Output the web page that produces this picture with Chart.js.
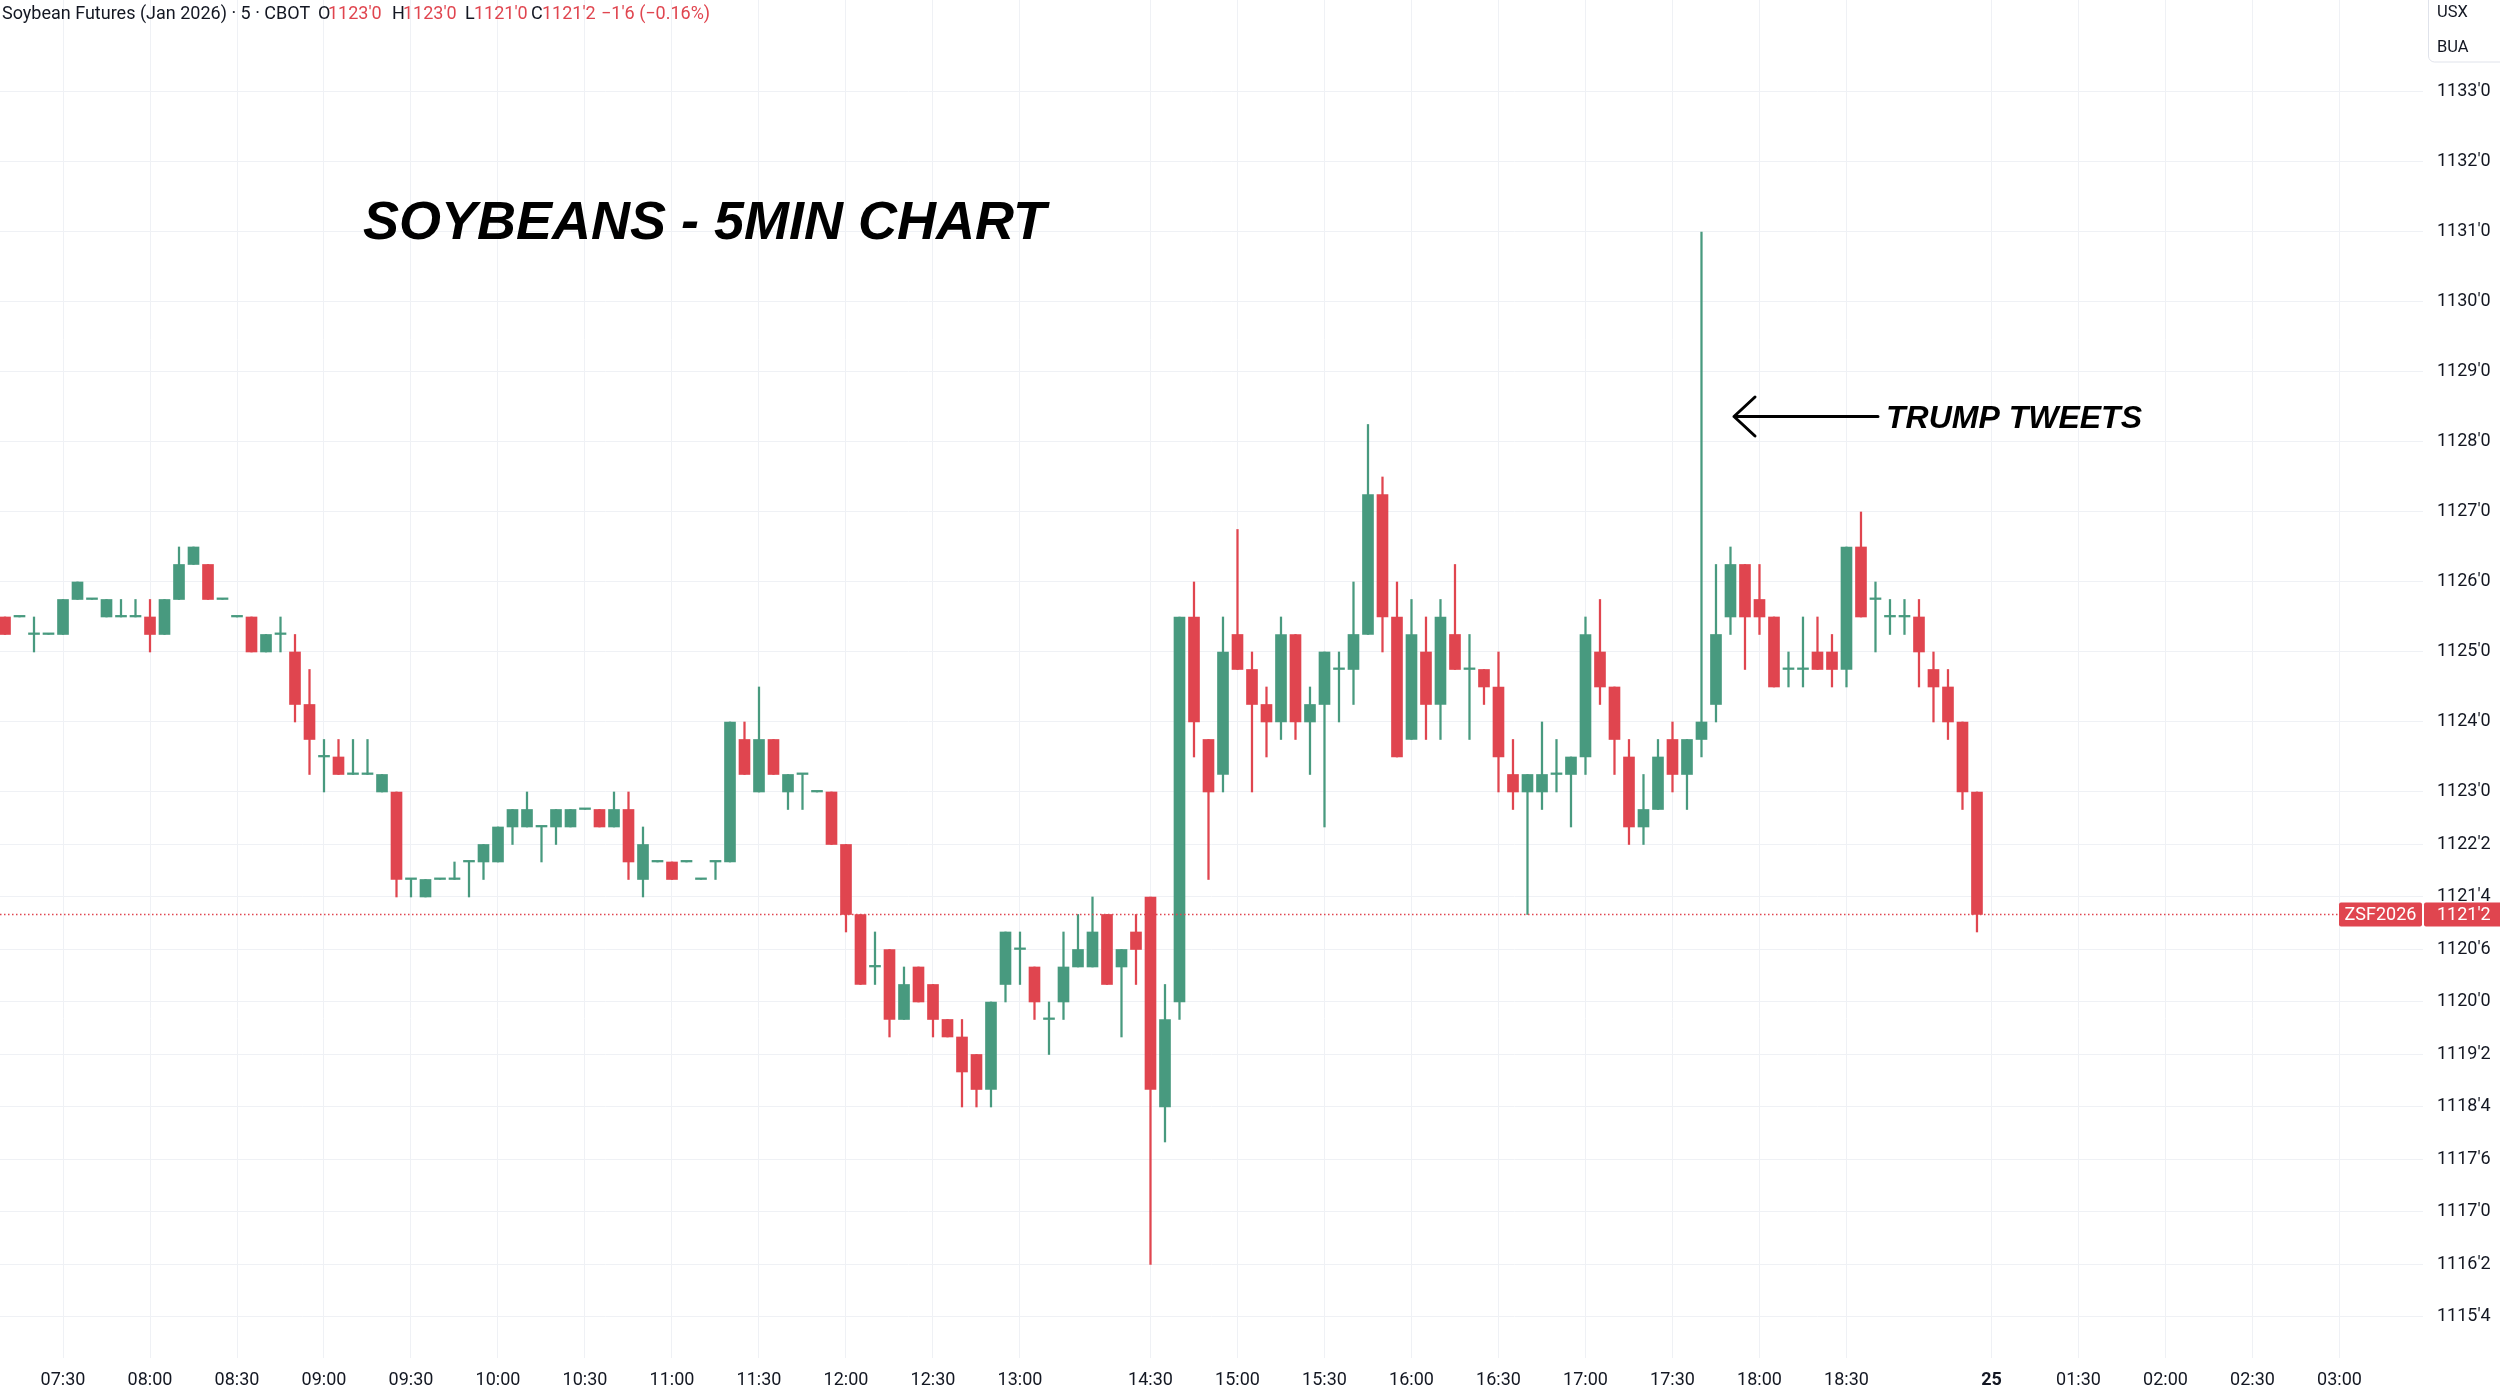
<!DOCTYPE html>
<html>
<head>
<meta charset="utf-8">
<title>Soybeans 5min</title>
<script src="https://cdn.jsdelivr.net/npm/chart.js@4.4.0/dist/chart.umd.min.js"></script>
<style>
  html, body { margin: 0; padding: 0; background: #ffffff; overflow: hidden; }
  #wrap { width: 2500px; height: 1387px; position: relative; }
</style>
</head>
<body>
<div id="wrap"><canvas id="myChart"></canvas></div>
<script>
// 5 minute candles, 07:10 -> 13:40 then 14:30 -> 19:15 (one slot per candle)
const open = [
  1125.5, 1125.5, 1125.25, 1125.25, 1125.25, 1125.75, 1125.75, 1125.5, 1125.5, 1125.5,
  1125.5, 1125.25, 1125.75, 1126.25, 1126.25, 1125.75, 1125.5, 1125.5, 1125, 1125.25,
  1125, 1124.25, 1123.5, 1123.5, 1123.25, 1123.25, 1123, 1123, 1121.75, 1121.5,
  1121.75, 1121.75, 1122, 1122, 1122, 1122.5, 1122.5, 1122.5, 1122.5, 1122.5,
  1122.75, 1122.75, 1122.5, 1122.75, 1121.75, 1122, 1122, 1122, 1121.75, 1122,
  1122, 1123.75, 1123, 1123.75, 1123, 1123.25, 1123, 1123, 1122.25, 1121.25,
  1120.5, 1120.75, 1119.75, 1120.5, 1120.25, 1119.75, 1119.5, 1119.25, 1118.75, 1120.25,
  1120.75, 1120.5, 1119.75, 1120, 1120.5, 1120.5, 1121.25, 1120.5, 1121,
  1121.5, 1118.5, 1120, 1125.5, 1123.75, 1123.25, 1125.25, 1124.75, 1124.25, 1124,
  1125.25, 1124, 1124.25, 1124.75, 1124.75, 1125.25, 1127.25, 1125.5, 1123.75, 1125,
  1124.25, 1125.25, 1124.75, 1124.75, 1124.5, 1123.25, 1123, 1123, 1123.25, 1123.25,
  1123.5, 1125, 1124.5, 1123.5, 1122.5, 1122.75, 1123.75, 1123.25, 1123.75, 1124.25,
  1125.5, 1126.25, 1125.75, 1125.5, 1124.75, 1124.75, 1125, 1125, 1124.75, 1126.5,
  1125.75, 1125.5, 1125.5, 1125.5, 1124.75, 1124.5, 1124, 1123
];
const high = [
  1125.5, 1125.5, 1125.5, 1125.25, 1125.75, 1126, 1125.75, 1125.75, 1125.75, 1125.75,
  1125.75, 1125.75, 1126.5, 1126.5, 1126.25, 1125.75, 1125.5, 1125.5, 1125.25, 1125.5,
  1125.25, 1124.75, 1123.75, 1123.75, 1123.75, 1123.75, 1123.25, 1123, 1121.75, 1121.75,
  1121.75, 1122, 1122, 1122.25, 1122.5, 1122.75, 1123, 1122.5, 1122.75, 1122.75,
  1122.75, 1122.75, 1123, 1123, 1122.5, 1122, 1122, 1122, 1121.75, 1122,
  1124, 1124, 1124.5, 1123.75, 1123.25, 1123.25, 1123, 1123, 1122.25, 1121.25,
  1121, 1120.75, 1120.5, 1120.5, 1120.25, 1119.75, 1119.75, 1119.25, 1120, 1121,
  1121, 1120.5, 1120, 1121, 1121.25, 1121.5, 1121.25, 1120.75, 1121.25,
  1121.5, 1120.25, 1125.5, 1126, 1123.75, 1125.5, 1126.75, 1125, 1124.5, 1125.5,
  1125.25, 1124.5, 1125, 1125, 1126, 1128.25, 1127.5, 1126, 1125.75, 1125.5,
  1125.75, 1126.25, 1125.25, 1124.75, 1125, 1123.75, 1123.25, 1124, 1123.75, 1123.5,
  1125.5, 1125.75, 1124.5, 1123.75, 1123.25, 1123.75, 1124, 1123.75, 1131, 1126.25,
  1126.5, 1126.25, 1126.25, 1125.5, 1125, 1125.5, 1125.5, 1125.25, 1126.5, 1127,
  1126, 1125.75, 1125.75, 1125.75, 1125, 1124.75, 1124, 1123
];
const low = [
  1125.25, 1125.5, 1125, 1125.25, 1125.25, 1125.75, 1125.75, 1125.5, 1125.5, 1125.5,
  1125, 1125.25, 1125.75, 1126.25, 1125.75, 1125.75, 1125.5, 1125, 1125, 1125,
  1124, 1123.25, 1123, 1123.25, 1123.25, 1123.25, 1123, 1121.5, 1121.5, 1121.5,
  1121.75, 1121.75, 1121.5, 1121.75, 1122, 1122.25, 1122.5, 1122, 1122.25, 1122.5,
  1122.75, 1122.5, 1122.5, 1121.75, 1121.5, 1122, 1121.75, 1122, 1121.75, 1121.75,
  1122, 1123.25, 1123, 1123.25, 1122.75, 1122.75, 1123, 1122.25, 1121, 1120.25,
  1120.25, 1119.5, 1119.75, 1120, 1119.5, 1119.5, 1118.5, 1118.5, 1118.5, 1120,
  1120.25, 1119.75, 1119.25, 1119.75, 1120.5, 1120.5, 1120.25, 1119.5, 1120.25,
  1116.25, 1118, 1119.75, 1123.5, 1121.75, 1123, 1124.75, 1123, 1123.5, 1123.75,
  1123.75, 1123.25, 1122.5, 1124, 1124.25, 1125.25, 1125, 1123.5, 1123.75, 1123.75,
  1123.75, 1124.75, 1123.75, 1124.25, 1123, 1122.75, 1121.25, 1122.75, 1123, 1122.5,
  1123.25, 1124.25, 1123.25, 1122.25, 1122.25, 1122.75, 1123, 1122.75, 1123.5, 1124,
  1125.25, 1124.75, 1125.25, 1124.5, 1124.5, 1124.5, 1124.75, 1124.5, 1124.5, 1125.5,
  1125, 1125.25, 1125.25, 1124.5, 1124, 1123.75, 1122.75, 1121
];
const close = [
  1125.25, 1125.5, 1125.25, 1125.25, 1125.75, 1126, 1125.75, 1125.75, 1125.5, 1125.5,
  1125.25, 1125.75, 1126.25, 1126.5, 1125.75, 1125.75, 1125.5, 1125, 1125.25, 1125.25,
  1124.25, 1123.75, 1123.5, 1123.25, 1123.25, 1123.25, 1123.25, 1121.75, 1121.75, 1121.75,
  1121.75, 1121.75, 1122, 1122.25, 1122.5, 1122.75, 1122.75, 1122.5, 1122.75, 1122.75,
  1122.75, 1122.5, 1122.75, 1122, 1122.25, 1122, 1121.75, 1122, 1121.75, 1122,
  1124, 1123.25, 1123.75, 1123.25, 1123.25, 1123.25, 1123, 1122.25, 1121.25, 1120.25,
  1120.5, 1119.75, 1120.25, 1120, 1119.75, 1119.5, 1119, 1118.75, 1120, 1121,
  1120.75, 1120, 1119.75, 1120.5, 1120.75, 1121, 1120.25, 1120.75, 1120.75,
  1118.75, 1119.75, 1125.5, 1124, 1123, 1125, 1124.75, 1124.25, 1124, 1125.25,
  1124, 1124.25, 1125, 1124.75, 1125.25, 1127.25, 1125.5, 1123.5, 1125.25, 1124.25,
  1125.5, 1124.75, 1124.75, 1124.5, 1123.5, 1123, 1123.25, 1123.25, 1123.25, 1123.5,
  1125.25, 1124.5, 1123.75, 1122.5, 1122.75, 1123.5, 1123.25, 1123.75, 1124, 1125.25,
  1126.25, 1125.5, 1125.5, 1124.5, 1124.75, 1124.75, 1124.75, 1124.75, 1126.5, 1125.5,
  1125.75, 1125.5, 1125.5, 1125, 1124.5, 1124, 1123, 1121.25
];

// time axis: slot index -> label
const xTickSlots = [4, 10, 16, 22, 28, 34, 40, 46, 52, 58, 64, 70, 79, 85, 91, 97, 103, 109, 115, 121, 127, 137, 143, 149, 155, 161];
const xTickLabels = ["07:30", "08:00", "08:30", "09:00", "09:30", "10:00", "10:30", "11:00", "11:30", "12:00", "12:30", "13:00",
  "14:30", "15:00", "15:30", "16:00", "16:30", "17:00", "17:30", "18:00", "18:30", "25", "01:30", "02:00", "02:30", "03:00"];

// price axis ticks (cents, quarter steps)
const priceTicks = [1133, 1132, 1131, 1130, 1129, 1128, 1127, 1126, 1125, 1124, 1123, 1122.25, 1121.5, 1120.75,
  1120, 1119.25, 1118.5, 1117.75, 1117, 1116.25, 1115.5];

const UP = "#489A7F";
const DOWN = "#E0454F";
const GRID = "#EFF1F5";
const TEXT = "#131722";

function fmtPrice(v) {
  const i = Math.floor(v + 1e-9);
  const f = Math.round((v - i) * 8);
  return i + "'" + f;
}

function candleColor(i) {
  return close[i] >= open[i] ? UP : DOWN;
}

// overlay: header, title, annotation, last price line + labels
const overlay = {
  id: "overlay",
  afterDraw(chart) {
    const c = chart.ctx;
    const y = chart.scales.y;
    const area = chart.chartArea;
    const last = close[close.length - 1];
    const py = y.getPixelForValue(last);
    c.save();

    // last price dotted line
    c.strokeStyle = DOWN;
    c.lineWidth = 1.3;
    c.setLineDash([1.5, 2.5]);
    c.beginPath();
    c.moveTo(area.left, py);
    c.lineTo(2339, py);
    c.stroke();
    c.setLineDash([]);

    // symbol + price boxes on the axis
    c.fillStyle = DOWN;
    c.beginPath();
    c.roundRect(2339, py - 12, 83, 24, 2);
    c.fill();
    c.beginPath();
    c.roundRect(2424, py - 12, 80, 24, 2);
    c.fill();
    c.fillStyle = "#ffffff";
    c.font = "18px Roboto";
    c.textBaseline = "middle";
    c.textAlign = "center";
    c.fillText("ZSF2026", 2380.5, py + 1);
    c.textAlign = "left";
    c.fillText(fmtPrice(last), 2437, py + 1);

    // currency box top right
    c.strokeStyle = "#E0E3EB";
    c.lineWidth = 1;
    c.beginPath();
    c.roundRect(2428.5, -6, 80, 68, 6);
    c.stroke();
    c.fillStyle = TEXT;
    c.font = "16.5px Roboto";
    c.fillText("USX", 2437, 13);
    c.fillText("BUA", 2437, 48);

    // header line
    c.font = "18px Roboto";
    c.fillStyle = TEXT;
    c.fillText("Soybean Futures (Jan 2026) \u00b7 5 \u00b7 CBOT", 2, 14);
    const parts = [
      ["O", 318, "1123'0", 328],
      ["H", 392, "1123'0", 403],
      ["L", 465, "1121'0", 474],
      ["C", 531, "1121'2", 542]
    ];
    parts.forEach(p => {
      c.fillStyle = TEXT;
      c.fillText(p[0], p[1], 14);
      c.fillStyle = DOWN;
      c.fillText(p[2], p[3], 14);
    });
    c.fillText("\u22121'6 (\u22120.16%)", 601, 14);

    // title
    c.fillStyle = "#000000";
    c.font = "italic bold 54px 'Liberation Sans', Arial";
    c.textBaseline = "alphabetic";
    c.fillText("SOYBEANS - 5MIN CHART", 363, 239);

    // annotation arrow
    c.strokeStyle = "#000000";
    c.lineWidth = 3;
    c.lineCap = "round";
    c.lineJoin = "round";
    c.beginPath();
    c.moveTo(1878, 416.5);
    c.lineTo(1734, 416.5);
    c.moveTo(1755, 397);
    c.lineTo(1734, 416.5);
    c.lineTo(1755, 436);
    c.stroke();
    c.font = "italic bold 32px 'Liberation Sans', Arial";
    c.fillText("TRUMP TWEETS", 1886, 428);

    c.restore();
  }
};

document.addEventListener("DOMContentLoaded", function () {
  const ctx = document.getElementById("myChart").getContext("2d");

  new Chart(ctx, {
    type: "bar",
    data: {
      datasets: [
        {
          label: "wick",
          data: open.map((o, i) => ({ x: i, y: [low[i], high[i]] })),
          backgroundColor: open.map((o, i) => candleColor(i)),
          barThickness: 1.6,
          order: 1
        },
        {
          label: "body",
          data: open.map((o, i) => ({ x: i, y: [open[i], close[i]] })),
          backgroundColor: open.map((o, i) => candleColor(i)),
          barThickness: 11,
          minBarLength: 1.6,
          order: 0
        }
      ]
    },
    options: {
      responsive: true,
      maintainAspectRatio: false,
      devicePixelRatio: 1,
      animation: false,
      layout: { padding: 0 },
      datasets: { bar: { grouped: false } },
      plugins: {
        legend: { display: false },
        tooltip: { enabled: false }
      },
      scales: {
        x: {
          type: "linear",
          offset: false,
          min: -0.345,
          max: 166.76,
          grid: { color: GRID, offset: false, drawTicks: false },
          border: { display: false },
          afterBuildTicks: s => { s.ticks = xTickSlots.map(v => ({ value: v })); },
          afterFit: s => { s.height = 29; s.paddingLeft = 0; s.paddingRight = 0; },
          ticks: {
            autoSkip: false,
            maxRotation: 0,
            padding: 12,
            color: TEXT,
            font: ctx => ({ family: "Roboto", size: 18, weight: xTickLabels[ctx.index] === "25" ? "bold" : "normal" }),
            callback: (v, i) => xTickLabels[i]
          }
        },
        y: {
          position: "right",
          min: 1114.914,
          max: 1134.314,
          grid: { color: GRID, drawTicks: false },
          border: { display: false },
          afterBuildTicks: s => { s.ticks = priceTicks.map(v => ({ value: v })); },
          afterFit: s => { s.width = 77; s.paddingTop = 0; s.paddingBottom = 0; },
          ticks: {
            padding: 14,
            color: TEXT,
            font: { family: "Roboto", size: 18 },
            callback: v => fmtPrice(v)
          }
        }
      }
    },
    plugins: [overlay]
  });
});
</script>
</body>
</html>
